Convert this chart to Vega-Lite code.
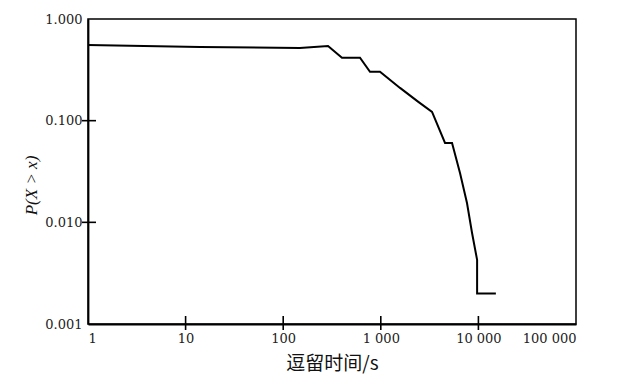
{
  "$schema": "https://vega.github.io/schema/vega-lite/v6.json",
  "autosize": {"type": "none"},
  "padding": {"left": 88, "top": 19, "right": 48, "bottom": 53},
  "width": 488,
  "height": 305,
  "background": "white",
  "config": {
    "view": {"stroke": "black", "strokeWidth": 1.5},
    "axis": {
      "grid": false,
      "ticks": false,
      "domainColor": "black",
      "domainWidth": 1.8,
      "labelFont": "DejaVu Serif",
      "labelFontSize": 13,
      "labelColor": "#222",
      "titleColor": "#111"
    }
  },
  "datasets": {
    "curve": [
      {"i": 1, "t": 1, "p": 0.555},
      {"i": 2, "t": 14, "p": 0.53},
      {"i": 3, "t": 148, "p": 0.519},
      {"i": 4, "t": 288, "p": 0.543},
      {"i": 5, "t": 400, "p": 0.416},
      {"i": 6, "t": 612, "p": 0.416},
      {"i": 7, "t": 775, "p": 0.303},
      {"i": 8, "t": 981, "p": 0.303},
      {"i": 9, "t": 1574, "p": 0.21},
      {"i": 10, "t": 2405, "p": 0.154},
      {"i": 11, "t": 3350, "p": 0.122},
      {"i": 12, "t": 4550, "p": 0.0604},
      {"i": 13, "t": 5370, "p": 0.0604},
      {"i": 14, "t": 6480, "p": 0.0306},
      {"i": 15, "t": 7640, "p": 0.0155},
      {"i": 16, "t": 8600, "p": 0.0079},
      {"i": 17, "t": 9700, "p": 0.00427},
      {"i": 18, "t": 9700, "p": 0.002},
      {"i": 19, "t": 15100, "p": 0.002}
    ],
    "xticks": [
      {"t": 10, "p": 0.001},
      {"t": 100, "p": 0.001},
      {"t": 1000, "p": 0.001},
      {"t": 10000, "p": 0.001}
    ],
    "yticks": [
      {"p": 0.01, "t": 1},
      {"p": 0.1, "t": 1}
    ]
  },
  "layer": [
    {
      "data": {"name": "curve"},
      "mark": {"type": "line", "color": "black", "strokeWidth": 2},
      "encoding": {
        "order": {"field": "i", "type": "quantitative"},
        "x": {
          "field": "t",
          "type": "quantitative",
          "scale": {"type": "log", "domain": [1, 100000], "nice": false},
          "axis": {
            "values": [1, 10, 100, 1000, 10000, 100000],
            "labelExpr": "datum.value == 1 ? '1' : datum.value == 10 ? '10' : datum.value == 100 ? '100' : datum.value == 1000 ? '1 000' : datum.value == 10000 ? '10 000' : '100 000'",
            "labelPadding": 8,
            "title": "逗留时间/s",
            "titleFont": "Noto Sans CJK SC",
            "titleFontSize": 19,
            "titleFontWeight": "normal",
            "titleY": 39,
            "titleBaseline": "middle"
          }
        },
        "y": {
          "field": "p",
          "type": "quantitative",
          "scale": {"type": "log", "domain": [0.001, 1], "nice": false},
          "axis": {
            "values": [0.001, 0.01, 0.1, 1],
            "format": ".3f",
            "labelPadding": 6,
            "title": "P(X > x)",
            "titleFont": "Liberation Serif",
            "titleFontStyle": "italic",
            "titleFontWeight": "normal",
            "titleFontSize": 17,
            "titleX": -57,
            "titleY": 166,
            "titleAlign": "center",
            "titleBaseline": "middle"
          }
        }
      }
    },
    {
      "data": {"name": "xticks"},
      "mark": {"type": "tick", "orient": "vertical", "color": "black", "size": 14, "thickness": 1.6, "opacity": 1, "yOffset": -1},
      "encoding": {
        "x": {"field": "t", "type": "quantitative"},
        "y": {"field": "p", "type": "quantitative"}
      }
    },
    {
      "data": {"name": "yticks"},
      "mark": {"type": "tick", "orient": "horizontal", "color": "black", "size": 14, "thickness": 1.6, "opacity": 1, "xOffset": 1},
      "encoding": {
        "y": {"field": "p", "type": "quantitative"},
        "x": {"field": "t", "type": "quantitative"}
      }
    }
  ]
}
